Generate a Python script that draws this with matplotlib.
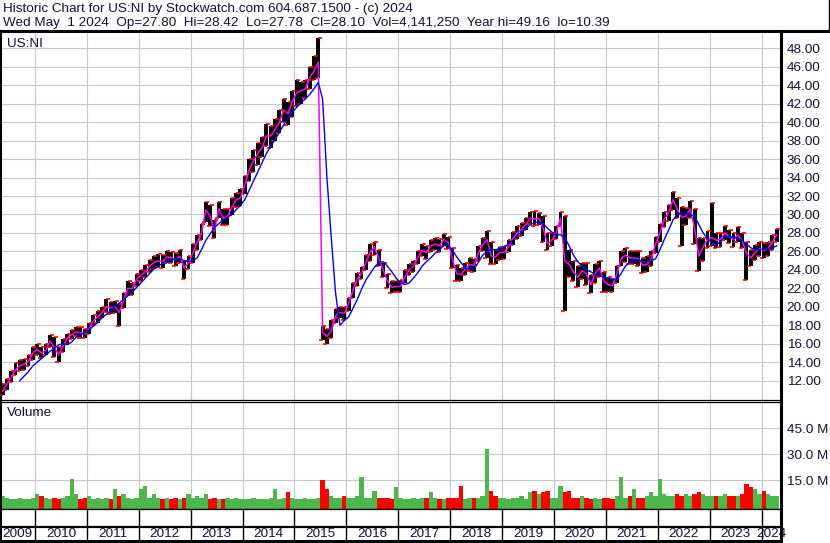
import numpy as np
import matplotlib.pyplot as plt
from matplotlib.lines import Line2D

plt.rcParams['font.family'] = ['Liberation Sans', 'DejaVu Sans']

# monthly values, May 2009 .. Apr 2024
close = [
    10.9, 11.6, 12.4, 13.2, 13.6, 13.8, 14.1, 15.0,                    # 2009
    15.4, 15.0, 15.3, 16.3, 15.6, 14.8, 15.8, 16.6, 17.0, 17.3, 17.2, 17.1,
    17.6, 18.5, 18.9, 19.4, 20.0, 19.9, 20.0, 19.4, 20.7, 22.0, 22.0, 23.0,
    23.4, 23.8, 24.4, 24.8, 25.0, 24.9, 25.4, 25.3, 25.1, 25.5, 24.2, 24.8,
    25.8, 27.0, 28.0, 30.5, 29.8, 28.2, 30.6, 29.6, 29.8, 30.8, 31.6, 31.8,
    33.2, 34.8, 35.8, 36.6, 37.2, 38.5, 38.5, 39.2, 40.0, 41.3, 40.9, 42.2,
    43.2, 43.4, 43.6, 44.8, 45.5, 46.5, 17.2, 16.8, 17.4, 19.0, 19.4, 19.3,
    20.3, 21.8, 23.0, 23.6, 24.8, 25.9, 26.5, 25.2, 24.0, 22.8, 22.1, 22.2,
    22.2, 23.2, 24.0, 24.4, 25.3, 26.1, 25.9, 26.6, 26.8, 26.6, 27.3, 27.0,
    25.2, 23.6, 23.5, 24.1, 24.6, 24.5, 25.8, 26.7, 27.3, 25.5, 25.4, 25.9,
    25.9, 26.5, 27.4, 28.0, 28.4, 28.9, 29.6, 29.5, 29.6, 28.5, 26.8, 27.2,
    28.0, 29.6, 25.0, 24.6, 23.8, 23.2, 23.9, 23.6, 22.4, 23.6, 24.2, 22.8,
    22.4, 22.3, 23.5, 25.2, 25.6, 25.3, 25.3, 25.2, 24.5, 24.6, 25.2, 26.8,
    28.0, 29.5, 30.2, 31.6, 30.6, 29.7, 29.8, 30.6, 28.5, 25.5, 26.5, 27.3,
    27.5, 27.2, 27.3, 28.0, 27.6, 27.3, 27.8, 27.2, 25.8, 25.3, 25.9, 26.3,
    26.1, 26.3, 27.0, 27.8,                                            # 2024
]
high = [
    11.6, 12.2, 13.0, 13.9, 14.2, 14.4, 14.8, 15.7,
    16.0, 15.6, 16.0, 16.9, 16.7, 15.6, 16.5, 17.1, 17.5, 17.8, 17.8, 17.6,
    18.2, 19.1, 19.5, 20.0, 20.8, 20.5, 20.6, 20.3, 21.5, 22.8, 22.6, 23.6,
    24.0, 24.5, 25.1, 25.5, 25.7, 25.6, 26.0, 25.9, 25.8, 26.1, 25.0, 25.5,
    26.8, 27.8, 29.0, 31.4, 31.0, 29.4, 31.4, 30.6, 30.6, 31.8, 32.3, 32.8,
    34.2, 36.0, 37.0, 37.7, 38.4, 39.8, 39.6, 40.3, 41.3, 42.5, 42.2, 43.4,
    44.6, 44.4, 44.6, 46.0, 47.2, 49.16, 17.9, 17.6, 18.6, 19.8, 20.0, 20.0,
    21.0, 22.6, 23.7, 24.3, 25.6, 26.8, 27.0, 26.2, 24.8, 23.6, 22.8, 22.8,
    22.9, 24.0, 24.6, 25.0, 26.0, 26.8, 26.6, 27.2, 27.4, 27.3, 27.9, 27.6,
    26.4, 24.5, 24.2, 24.8, 25.3, 25.2, 26.6, 27.4, 28.2, 27.0, 26.1, 26.5,
    26.6, 27.2, 28.1, 28.7, 29.1, 29.6, 30.3, 30.4, 30.2, 29.8, 28.0, 28.0,
    28.8, 30.3, 29.8, 26.2, 25.0, 24.4, 24.8, 24.8, 23.4, 24.6, 25.0, 23.8,
    23.2, 23.0, 24.4, 26.0, 26.4, 26.0, 26.0, 26.0, 25.3, 25.5, 26.0, 27.6,
    29.0, 30.3, 31.0, 32.4, 31.8, 30.8, 30.7, 31.5, 30.6, 27.4, 27.4, 28.2,
    31.2, 28.0, 28.0, 28.8, 28.3, 28.0, 28.6, 28.0, 27.0, 26.2, 26.7, 27.0,
    26.9, 27.0, 27.8, 28.42,
]
low = [
    10.4, 11.0, 11.9, 12.6, 13.0, 13.2, 13.6, 14.2,
    14.8, 14.5, 14.8, 15.6, 14.6, 14.0, 15.1, 16.0, 16.5, 16.8, 16.6, 16.6,
    17.1, 17.9, 18.3, 18.8, 19.4, 19.2, 19.3, 17.9, 19.9, 21.2, 21.3, 22.3,
    22.8, 23.2, 23.8, 24.1, 24.3, 24.2, 24.7, 24.7, 24.4, 24.8, 23.0, 24.1,
    24.8, 26.2, 27.2, 29.2, 28.8, 27.4, 29.6, 28.9, 28.9, 29.9, 30.8, 30.9,
    32.2, 33.6, 34.6, 35.4, 36.2, 37.4, 37.2, 38.0, 38.8, 40.0, 39.7, 40.6,
    41.8, 42.0, 42.6, 43.6, 44.6, 44.8, 16.4, 16.0, 16.6, 18.2, 18.8, 18.6,
    19.6, 21.0, 22.3, 23.0, 24.0, 25.0, 25.6, 24.4, 23.2, 22.0, 21.5, 21.6,
    21.6, 22.6, 23.4, 23.8, 24.6, 25.5, 25.2, 25.9, 26.1, 25.9, 26.6, 26.3,
    24.2, 22.8, 22.8, 23.4, 23.9, 23.8, 25.0, 26.0, 25.3, 24.6, 24.6, 25.1,
    25.2, 25.9, 26.7, 27.3, 27.7, 28.3, 29.0, 28.8, 28.9, 27.0, 26.2, 26.6,
    27.3, 28.8, 19.6, 23.2, 22.8, 22.2, 23.0, 22.4, 21.5, 22.6, 23.2, 21.6,
    21.6, 21.6, 22.6, 24.4, 24.9, 24.6, 24.6, 24.4, 23.7, 23.8, 24.4, 25.8,
    27.0, 28.6, 29.3, 30.5, 29.6, 26.6, 28.9, 29.6, 26.8, 23.9, 25.0, 26.4,
    26.6, 26.4, 26.5, 27.2, 26.9, 26.5, 27.0, 26.4, 22.9, 24.4, 25.1, 25.5,
    25.3, 25.5, 26.2, 27.0,
]
# slow moving average (blue line)
slow_ma = [
    np.nan, np.nan, np.nan, np.nan, 12.0, 12.5, 13.0, 13.6,
    14.0, 14.4, 14.8, 15.2, 15.5, 15.9, 16.0, 15.9, 16.2, 16.7, 17.0, 17.2,
    17.5, 17.9, 18.3, 18.8, 19.2, 19.6, 20.1, 20.4, 20.8, 21.2, 21.6, 22.1,
    22.6, 23.1, 23.6, 24.1, 24.4, 24.7, 24.9, 25.1, 25.2, 25.2, 25.0, 24.9,
    25.0, 25.3, 26.2, 27.2, 27.9, 28.6, 29.0, 29.4, 29.7, 30.0, 30.5, 31.0,
    31.6, 32.6, 33.6, 34.6, 35.6, 36.6, 37.4, 38.1, 38.9, 39.7, 40.4, 41.1,
    41.6, 42.1, 42.5, 43.0, 43.6, 44.3, 42.5, 34.0, 27.5, 21.5, 18.0, 18.5,
    18.9, 19.8, 20.8, 21.9, 22.9, 23.6, 24.3, 24.8, 24.9, 24.4, 23.8, 23.1,
    22.6, 22.4, 22.6, 23.1, 23.7, 24.4, 24.9, 25.3, 25.8, 26.2, 26.6, 26.7,
    26.2, 25.4, 24.8, 24.2, 24.0, 24.1, 24.8, 25.6, 26.0, 26.2, 26.2, 26.3,
    26.5, 26.8, 27.2, 27.7, 28.1, 28.5, 28.9, 29.1, 29.2, 29.0, 28.5, 28.1,
    27.8, 27.8, 27.5, 26.6, 25.6, 24.9, 24.4, 24.0, 23.8, 23.5, 23.4, 23.2,
    23.1, 23.0, 22.9, 23.6, 24.4, 24.8, 25.1, 25.1, 24.9, 24.9, 25.0, 25.2,
    26.2, 27.3, 28.3, 29.4, 30.0, 30.1, 30.1, 30.0, 29.8, 28.9, 28.0, 27.4,
    26.9, 26.7, 27.1, 27.6, 27.6, 27.5, 27.4, 27.2, 26.8, 26.4, 26.2, 26.2,
    26.2, 26.3, 26.4, 26.6,
]
# volume, millions
volume = [
    6, 5, 4, 4, 5, 4, 4, 5,
    7, 6, 5, 4, 5, 4, 5, 6, 16, 7, 4, 5,
    6, 4, 5, 4, 5, 4, 10, 6, 7, 5, 4, 5,
    10, 12, 5, 7, 5, 4, 5, 4, 5, 4, 5, 7,
    5, 6, 5, 7, 4, 5, 4, 4, 5, 4, 5, 4,
    4, 4, 5, 4, 4, 4, 5, 10, 4, 5, 8, 5,
    4, 4, 5, 4, 4, 5, 15, 10, 6, 5, 5, 6,
    5, 5, 6, 17, 5, 5, 9, 5, 5, 5, 4, 11,
    5, 4, 4, 5, 4, 5, 5, 8, 5, 4, 4, 5,
    5, 5, 12, 4, 5, 5, 5, 6, 33, 9, 6, 5,
    5, 4, 5, 5, 6, 4, 8, 9, 7, 8, 9, 5,
    5, 12, 8, 9, 5, 5, 6, 5, 4, 5, 4, 5,
    5, 4, 6, 17, 5, 6, 10, 5, 5, 6, 8, 6,
    16, 7, 6, 6, 7, 6, 7, 6, 7, 8, 7, 6,
    6, 6, 6, 7, 6, 6, 6, 7, 13, 11, 10, 7,
    9, 7, 6, 6,
]
years = list(range(2009, 2025))
price_ticks = list(range(12, 50, 2))
vol_ticks = [15, 30, 45]

title1 = 'Historic Chart for US:NI by Stockwatch.com 604.687.1500 - (c) 2024'
title2 = ('Wed May  1 2024  Op=27.80  Hi=28.42  Lo=27.78  Cl=28.10  '
          'Vol=4,141,250  Year hi=49.16  lo=10.39')

close = np.array(close)
high = np.array(high)
low = np.array(low)
slow_ma = np.array(slow_ma)
volume = np.array(volume, dtype=float)
t = 2009 + (4 + np.arange(len(close)) + 0.5) / 12.0

W, H = 830, 543
txt = '#141432'
grid_c = '#c8c8c8'
fs = 9.7

fig = plt.figure(figsize=(W / 100, H / 100), dpi=100)


def box(x0, y0, x1, y1):
    return [x0 / W, 1 - y1 / H, (x1 - x0) / W, (y1 - y0) / H]


ax = fig.add_axes(box(0, 31, 781, 400))
axv = fig.add_axes(box(0, 402, 781, 509), sharex=ax)
axy = fig.add_axes(box(0, 509, 781, 541), sharex=ax)
xlim = (2009.326, 2024.374)

# price panel
ax.bar(t, high - low, bottom=low, width=0.076, color='black', zorder=2)
ax.plot(t + 0.03, high, ls='none', marker='_', ms=2.5, mew=1.2, color='red', zorder=3)
ax.plot(t - 0.03, low, ls='none', marker='_', ms=2.5, mew=1.2, color='red', zorder=3)
ax.plot(t, close, color='#ff00ff', lw=1.1, zorder=4)
ax.plot(t, slow_ma, color='#0000ff', lw=1.0, zorder=5)
ax.set_xlim(*xlim)
ax.set_ylim(9.91, 49.87)
ax.set_yticks(price_ticks)
ax.set_yticklabels(['%.2f' % v for v in price_ticks])
ax.set_xticks(years[1:])
ax.yaxis.tick_right()
ax.tick_params(axis='both', length=0, labelbottom=False, labelsize=fs,
               labelcolor=txt, pad=4.0)
ax.grid(True, color=grid_c, lw=0.8)
ax.set_axisbelow(True)
ax.text(0.009, 0.965, 'US:NI', transform=ax.transAxes, fontsize=fs,
        color=txt, va='center')

# volume panel
vcol = ['#4cb84c'] + ['#4cb84c' if close[i] >= close[i - 1] else '#ff0000'
                      for i in range(1, len(close))]
vmin = -1.56
axv.bar(t, volume - vmin, bottom=vmin, width=1 / 12, color=vcol, lw=0, zorder=2)
axv.set_ylim(vmin, 60.2)
axv.set_yticks(vol_ticks)
axv.set_yticklabels(['%.1f M' % v for v in vol_ticks])
axv.yaxis.tick_right()
axv.tick_params(axis='both', length=0, labelbottom=False, labelsize=fs,
                labelcolor=txt, pad=4.0)
axv.grid(True, color=grid_c, lw=0.8)
axv.set_axisbelow(True)
axv.text(0.009, 0.9, 'Volume', transform=axv.transAxes, fontsize=fs,
         color=txt, va='center')

# year strip
axy.set_ylim(0, 32)
axy.set_yticks([])
axy.tick_params(axis='x', length=0, labelbottom=False)
axy.vlines(years[1:], 0, 32, color='black', lw=1.0)
axy.axhline(14, color='black', lw=1.6)
for y in years:
    c = (max(y, xlim[0]) + min(y + 1, xlim[1])) / 2
    axy.text(c, 7, str(y), ha='center', va='center', fontsize=fs, color=txt)

for a in (ax, axv, axy):
    a.spines['left'].set_linewidth(2.2)
    a.spines['right'].set_linewidth(2.2)
    a.spines['top'].set_linewidth(0.9)
    a.spines['bottom'].set_linewidth(0.9)
axy.spines['bottom'].set_linewidth(2.2)

# header
fig.text(3 / W, 1 - 9 / H, title1, fontsize=fs, color=txt, va='center')
fig.text(3 / W, 1 - 23 / H, title2, fontsize=fs, color=txt, va='center')
fig.add_artist(Line2D([0, 1], [1 - 31 / H] * 2, color='black', lw=2.2))
fig.add_artist(Line2D([828.5 / W] * 2, [1 - 31 / H, 1], color='black', lw=1.0))

fig.savefig('out.png', dpi=100)
